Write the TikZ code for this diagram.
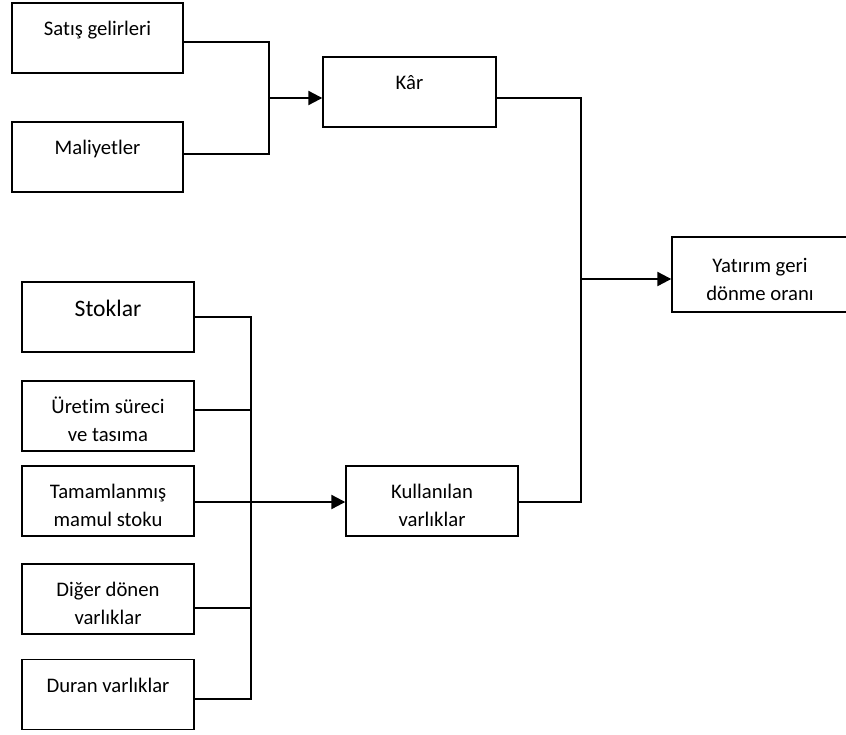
\documentclass[tikz,border=0pt]{standalone}
\usepackage{fontspec}
\setmainfont{Carlito}[Ligatures=NoCommon]
\usetikzlibrary{arrows.meta}
\begin{document}
\begin{tikzpicture}[x=1pt,y=-1pt,
  box/.style={draw,line width=1.4pt,minimum width=172pt,minimum height=70pt,inner sep=0pt},
  txt/.style={anchor=north,inner sep=0pt,align=center,font=\fontsize{20.7}{28}\selectfont},
  bigtxt/.style={txt,font=\fontsize{23.6}{28}\selectfont},
  wire/.style={line width=1.5pt},
  flow/.style={line width=2.2pt,-{Triangle[length=14pt,width=14pt]}}]
\useasboundingbox (0,0) rectangle (846,734);

% boxes
\node[box,minimum width=171pt] (sat) at (97.5,38) {};
\node[box,minimum width=171pt] (mal) at (97.5,157) {};
\node[box,minimum width=173pt] (kar) at (409.5,92) {};
\node[box,minimum width=176pt,minimum height=75pt] (yat) at (760,274.5) {};
\node[box] (sto) at (108,317) {};
\node[box] (ure) at (108,416) {};
\node[box] (tam) at (108,501) {};
\node[box] (dig) at (108,599) {};
\node[box] (dur) at (108,694.5) {};
\node[box] (kul) at (432,501) {};

% labels
\node[txt] (sat-t) at ([yshift=21.9pt]sat.center) {\strut Satış gelirleri};
\node[txt] (mal-t) at ([yshift=21.9pt]mal.center) {\strut Maliyetler};
\node[txt] (kar-t) at ([yshift=21.9pt]kar.center) {\strut Kâr};
\node[txt] (yat-t) at ([yshift=21.9pt]yat.center) {\strut Yatırım geri\\\strut dönme oranı};
\node[bigtxt] (sto-t) at ([yshift=20pt]sto.center) {\strut Stoklar};
\node[txt] (ure-t) at ([yshift=21.9pt]ure.center) {\strut Üretim süreci\\\strut ve tasıma};
\node[txt] (tam-t) at ([yshift=21.9pt]tam.center) {\strut Tamamlanmış\\\strut mamul stoku};
\node[txt] (dig-t) at ([yshift=21.9pt]dig.center) {\strut Diğer dönen\\\strut varlıklar};
\node[txt] (dur-t) at ([yshift=21.9pt]dur.center) {\strut Duran varlıklar};
\node[txt] (kul-t) at ([yshift=21.9pt]kul.center) {\strut Kullanılan\\\strut varlıklar};

% junction points
\coordinate (jtop) at (269,98);
\coordinate (jbot) at (251,502);
\coordinate (jright) at (581,279);

% profit branch
\draw[wire] ([yshift=-4pt]sat.east) -| (jtop);
\draw[wire] ([yshift=3pt]mal.east) -| (jtop);
\draw[flow] (jtop) -- (jtop -| kar.west);

% assets branch
\draw[wire] (sto.east) -| (jbot);
\draw[wire] ([yshift=6pt]ure.east) -| (jbot);
\draw[wire] ([yshift=-1pt]tam.east) -- (jbot);
\draw[wire] ([yshift=-9pt]dig.east) -| (jbot);
\draw[wire] ([yshift=-4.5pt]dur.east) -| (jbot);
\draw[flow] (jbot) -- (jbot -| kul.west);

% return on investment
\draw[wire] ([yshift=-6pt]kar.east) -| (jright);
\draw[wire] ([yshift=-1pt]kul.east) -| (jright);
\draw[flow] (jright) -- (jright -| yat.west);
\end{tikzpicture}
\end{document}
